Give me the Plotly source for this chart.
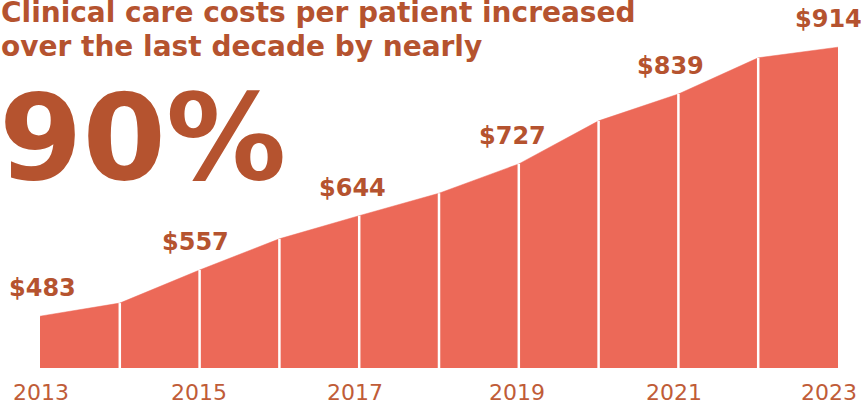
import plotly.graph_objects as go

years = [2013, 2014, 2015, 2016, 2017, 2018, 2019, 2020, 2021, 2022, 2023]
costs = [483, 504, 557, 607, 644, 680, 727, 796, 839, 897, 914]
label_years = [2013, 2015, 2017, 2019, 2021, 2023]
label_costs = [483, 557, 644, 727, 839, 914]
tick_labels = ["2013", "2015", "2017", "2019", "2021", "2023"]
title_lines = ["Clinical care costs per patient increased", "over the last decade by nearly"]
big_number = "90%"

FILL = "#EC6958"
TEXT = "#B5532F"
TICK = "#C05C38"
FONT = "DejaVu Sans"
BASE = 400

fig = go.Figure()
fig.add_trace(go.Scatter(
    x=years, y=costs, mode="lines", fill="tozeroy",
    fillcolor=FILL, line=dict(color=FILL, width=0.5),
    hoverinfo="skip", showlegend=False,
))

# white separators at each inner year
sx, sy = [], []
for yr, v in zip(years[1:-1], costs[1:-1]):
    sx += [yr, yr, None]
    sy += [BASE, v, None]
fig.add_trace(go.Scatter(
    x=sx, y=sy, mode="lines", line=dict(color="white", width=2.5),
    hoverinfo="skip", showlegend=False,
))

annotations = []
label_xshift = [2, -4, -7, -6, -8, -10]
for yr, v, dx in zip(label_years, label_costs, label_xshift):
    annotations.append(dict(
        x=yr, y=v, xref="x", yref="y", text=f"<b>${v}</b>",
        showarrow=False, yanchor="middle", xanchor="center",
        yshift=28, xshift=dx,
        font=dict(family=FONT, size=24, color=TEXT),
    ))

# year labels along the bottom
tick_xshift = [1, -1, -4, -2, -4, -9]
for yr, txt, dx in zip(label_years, tick_labels, tick_xshift):
    annotations.append(dict(
        x=yr, y=0, xref="x", yref="paper", text=txt,
        showarrow=False, yanchor="middle", xanchor="center",
        yshift=-24, xshift=dx,
        font=dict(family=FONT, size=22, color=TICK),
    ))

for line, dy in zip(title_lines, [-12, -46]):
    annotations.append(dict(
        x=0, y=1, xref="paper", yref="paper", xanchor="left", yanchor="middle",
        text="<b>" + line + "</b>", showarrow=False, align="left",
        font=dict(family=FONT, size=28, color=TEXT), yshift=dy, xshift=-41,
    ))
annotations.append(dict(
    x=0, y=1, xref="paper", yref="paper", xanchor="left", yanchor="middle",
    text="<b>" + big_number + "</b>", showarrow=False, align="left",
    font=dict(family=FONT, size=120, color=TEXT), yshift=-137, xshift=-43,
))

fig.update_layout(
    width=861, height=407,
    margin=dict(l=40, r=23, t=0, b=39),
    paper_bgcolor="white", plot_bgcolor="white",
    xaxis=dict(range=[2013, 2023], showticklabels=False,
               showgrid=False, zeroline=False, showline=False, ticks=""),
    yaxis=dict(range=[BASE, 989.6], visible=False, showgrid=False, zeroline=False),
    annotations=annotations,
)

fig.write_html("out.html", config={"displayModeBar": False},
               post_script="document.body.style.margin='0px';")
